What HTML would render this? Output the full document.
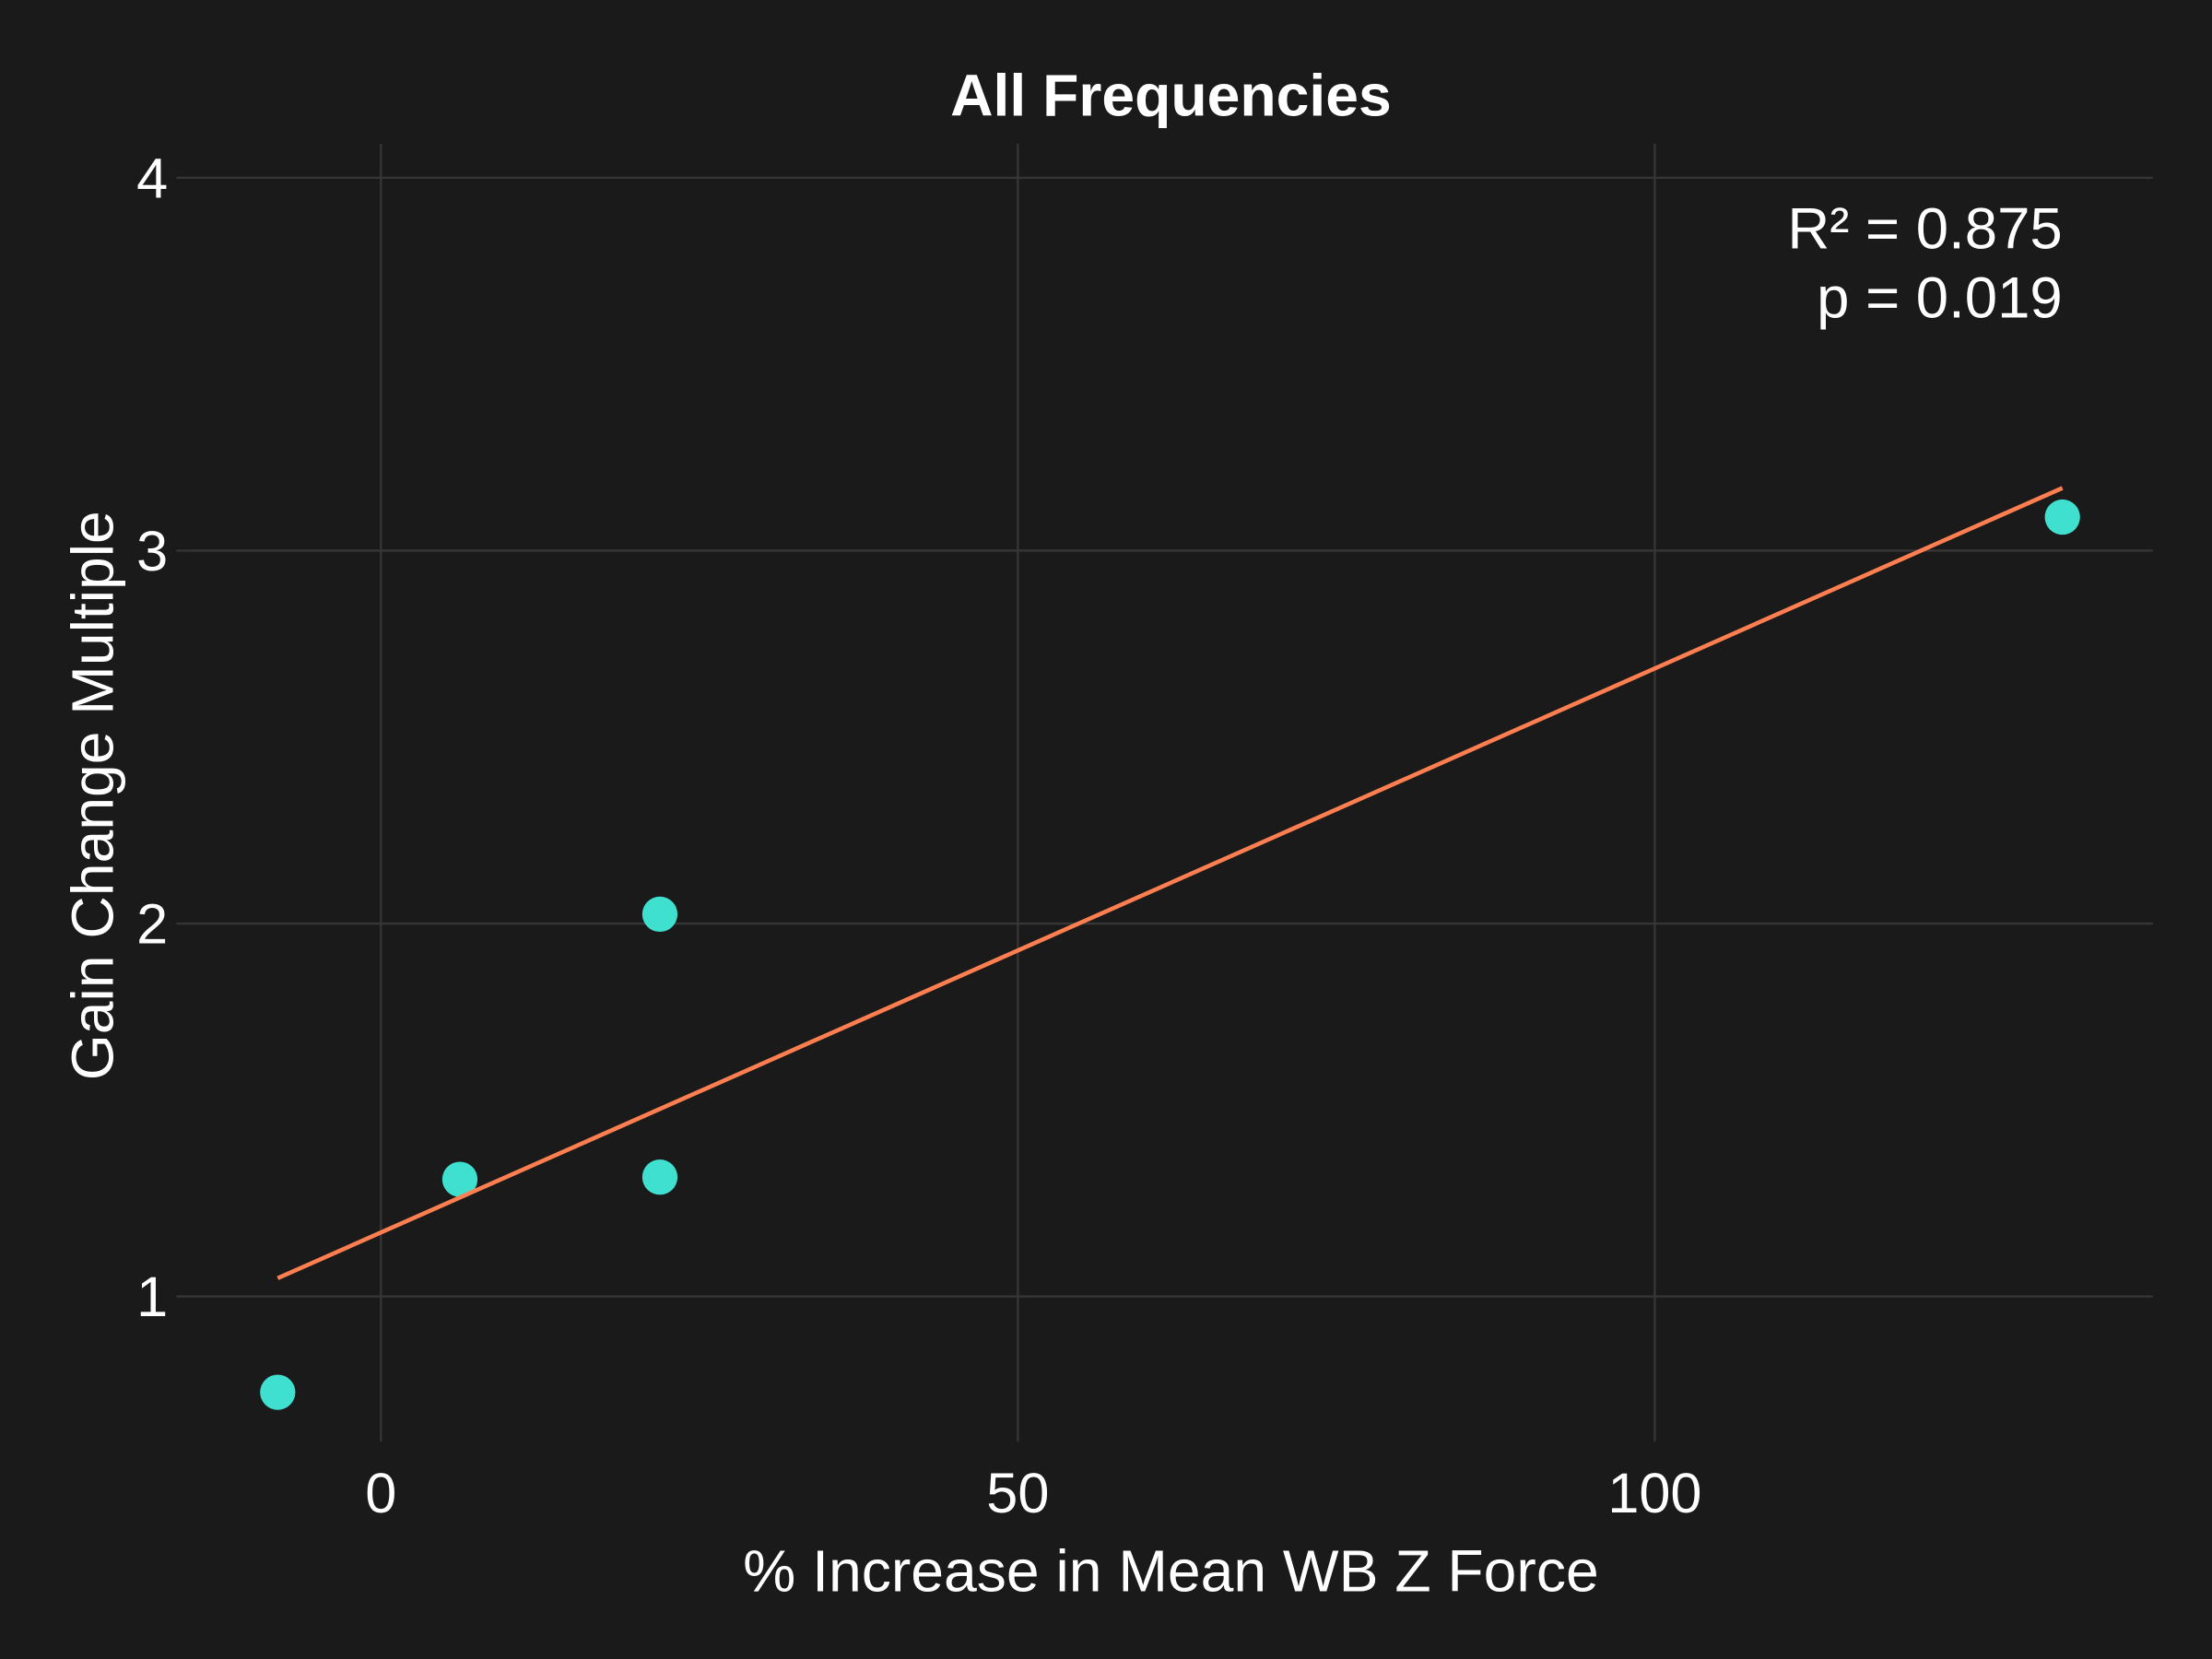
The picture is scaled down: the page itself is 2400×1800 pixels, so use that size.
<!DOCTYPE html>
<html><head><meta charset="utf-8"><style>
html,body{margin:0;padding:0;background:#1a1a1a;}
svg{display:block;font-family:"Liberation Sans",sans-serif;}
</style></head><body>
<svg id="chart" width="2400" height="1800" viewBox="0 0 1568 1176">
<rect x="0" y="0" width="1568" height="1176" fill="#1a1a1a"/>
<g id="grid"></g>
<g id="marks"></g>
<text x="830" y="82" text-anchor="middle" fill="#ffffff" font-size="42" font-weight="bold">All Frequencies</text>
<text x="830" y="1128" text-anchor="middle" fill="#ffffff" font-size="42">% Increase in Mean WB Z Force</text>
<text transform="translate(80,564) rotate(-90)" text-anchor="middle" fill="#ffffff" font-size="42">Gain Change Multiple</text>
<text x="1462" y="176" text-anchor="end" fill="#ffffff" font-size="41.5">R² = 0.875</text>
<text x="1462" y="225" text-anchor="end" fill="#ffffff" font-size="41.5">p = 0.019</text>
</svg>
<script>
const xTicks = [0, 50, 100];
const yTicks = [1, 2, 3, 4];
const xVals = [-8.1, 6.2, 21.9, 21.9, 132.0];
const yVals = [0.743, 1.314, 2.025, 1.32, 3.09];
const fitX = [-8.1, 132.0];
const fitY = [1.049, 3.168];

const NS = "http://www.w3.org/2000/svg";
const L = 133, R = 1526, T = 102, B = 1022;
function sx(v){ return 270 + (v - 0) * (1173 - 270) / 100; }
function sy(v){ return 919 - (v - 1) * (919 - 126) / 3; }
function mk(tag, attrs, parent){ const e = document.createElementNS(NS, tag); for (const k in attrs) e.setAttribute(k, attrs[k]); parent.appendChild(e); return e; }
const grid = document.getElementById('grid');
const marks = document.getElementById('marks');

xTicks.forEach(t => {
  const g = mk('line', {x1: sx(t), x2: sx(t), y1: T, y2: B, stroke: '#363636', 'stroke-width': 1.5}, grid);
  
  
  const lb = mk('text', {x: sx(t), y: 1072, 'text-anchor': 'middle', fill: '#ffffff', 'font-size': 40}, grid);
  lb.textContent = t;
  
  
});
yTicks.forEach(t => {
  const g = mk('line', {x1: L, x2: R, y1: sy(t), y2: sy(t), stroke: '#363636', 'stroke-width': 1.5}, grid);
  
  
  const tk = mk('line', {x1: 125, x2: L, y1: sy(t), y2: sy(t), stroke: '#363636', 'stroke-width': 1.5}, grid);
  
  
  const lb = mk('text', {x: 119, y: sy(t) + 14, 'text-anchor': 'end', fill: '#ffffff', 'font-size': 40}, grid);
  lb.textContent = t;
  
  
});
xVals.forEach((v, i) => {
  const c = mk('circle', {cx: sx(v), cy: sy(yVals[i]), r: 12.5, fill: '#40e0d0'}, marks);
  
  
});
const fl = mk('line', {x1: sx(fitX[0]), y1: sy(fitY[0]), x2: sx(fitX[1]), y2: sy(fitY[1]), stroke: '#ff7f50', 'stroke-width': 3}, marks);


</script>
</body></html>
